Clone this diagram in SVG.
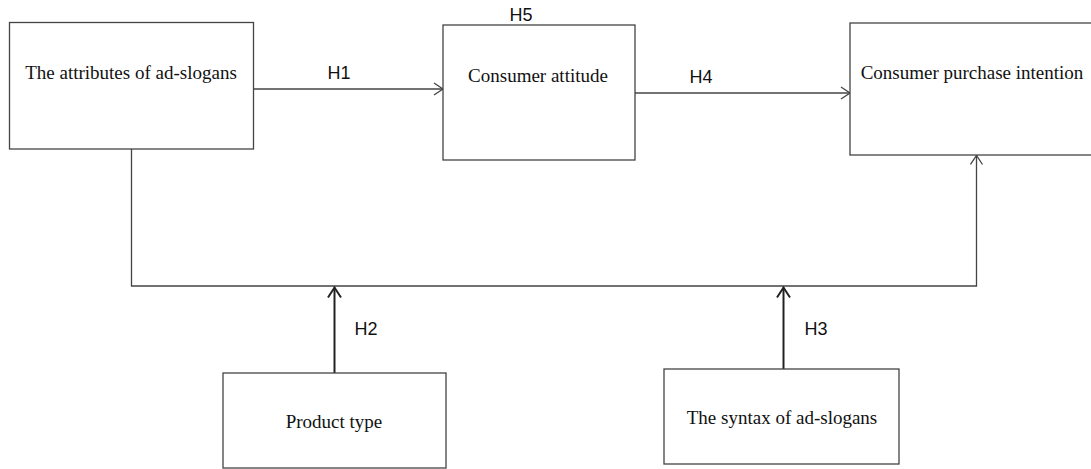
<svg xmlns="http://www.w3.org/2000/svg" width="1091" height="469" viewBox="0 0 1091 469">
<style>
.box{fill:#fff;stroke:#444;stroke-width:1.3}
.lbl{font-family:"Liberation Serif","Times New Roman",serif;font-size:19px;fill:#111;text-anchor:middle}
.h{font-family:"Liberation Sans",Arial,sans-serif;font-size:18px;fill:#111;text-anchor:middle}
.ln{fill:none;stroke:#444;stroke-width:1.3}
.thick{fill:none;stroke:#222;stroke-width:2}
</style>
<defs>
<marker id="arr" markerWidth="12" markerHeight="14" refX="10" refY="7" orient="auto" markerUnits="userSpaceOnUse">
<path d="M1,1 L10,7 L1,13" fill="none" stroke="#444" stroke-width="1.3"/>
</marker>
<marker id="arrT" markerWidth="14" markerHeight="16" refX="11" refY="8" orient="auto" markerUnits="userSpaceOnUse">
<path d="M1,1.5 L11,8 L1,14.5" fill="none" stroke="#222" stroke-width="2"/>
</marker>
</defs>
<rect width="1091" height="469" fill="#fff"/>
<g id="connectors">
<line class="ln" x1="254" y1="89" x2="443" y2="89" marker-end="url(#arr)"/>
<line class="ln" x1="635" y1="93" x2="850" y2="93" marker-end="url(#arr)"/>
<polyline class="ln" points="131.5,149 131.5,286 976.5,286 976.5,155.5" marker-end="url(#arr)"/>
<line class="thick" x1="334.5" y1="373" x2="334.5" y2="287.5" marker-end="url(#arrT)"/>
<line class="thick" x1="783.5" y1="369" x2="783.5" y2="287.5" marker-end="url(#arrT)"/>
<text class="h" x="339" y="79">H1</text>
<text class="h" x="521" y="21">H5</text>
<text class="h" x="701" y="83">H4</text>
<text class="h" x="366" y="335">H2</text>
<text class="h" x="816" y="335">H3</text>
</g>
<g id="attributes">
<rect class="box" x="9.5" y="22.5" width="244" height="126.5"/>
<text class="lbl" x="131" y="79">The attributes of ad-slogans</text>
</g>
<g id="attitude">
<rect class="box" x="443" y="25" width="192" height="135"/>
<text class="lbl" x="538" y="82">Consumer attitude</text>
</g>
<g id="intention">
<rect class="box" x="850" y="23" width="250" height="132"/>
<text class="lbl" x="972" y="79">Consumer purchase intention</text>
</g>
<g id="product">
<rect class="box" x="223" y="373" width="223" height="95"/>
<text class="lbl" x="334" y="428">Product type</text>
</g>
<g id="syntax">
<rect class="box" x="664" y="369" width="235" height="95"/>
<text class="lbl" x="782" y="424">The syntax of ad-slogans</text>
</g>
</svg>
